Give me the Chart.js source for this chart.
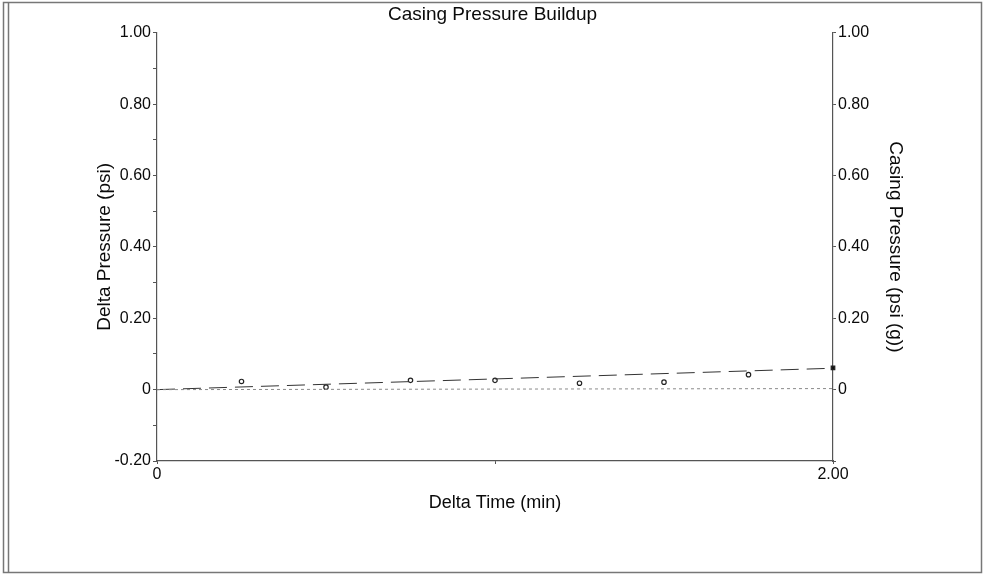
<!DOCTYPE html>
<html>
<head>
<meta charset="utf-8">
<script src="https://cdn.jsdelivr.net/npm/chart.js@4/dist/chart.umd.min.js"></script>
<style>
    html, body { margin: 0; padding: 0; background: #fff; }
    #wrap { width: 985px; height: 576px; }
</style>
</head>
<body>
<div id="wrap"><canvas id="buildupChart" width="985" height="576"></canvas></div>
<script>
// measured points (delta time in min, delta pressure in psi)
const timeMin = [0.25, 0.5, 0.75, 1.0, 1.25, 1.5, 1.75, 2.0];
const deltaPressure = [0.023, 0.007, 0.026, 0.026, 0.018, 0.021, 0.042, 0.061];

// dashed fit line and dotted base line
const trendTime = [0, 2.0];
const trendPressure = [0, 0.06];
const baseTime = [0, 2.0];
const basePressure = [0, 0.003];

// tick labels
const xTickValues = [0, 1, 2];
const xTickLabels = ["0", "", "2.00"];
const leftTickValues = [-0.2, 0, 0.2, 0.4, 0.6, 0.8, 1.0];
const leftTickLabels = ["-0.20", "0", "0.20", "0.40", "0.60", "0.80", "1.00"];
const rightTickValues = [0, 0.2, 0.4, 0.6, 0.8, 1.0];
const rightTickLabels = ["0", "0.20", "0.40", "0.60", "0.80", "1.00"];

function toPoints(xs, ys) {
    return xs.map((x, i) => ({ x: x, y: ys[i] }));
}

function labelFor(value, values, labels) {
    const i = values.findIndex(v => Math.abs(v - value) < 1e-6);
    return i >= 0 ? labels[i] : "";
}

const FONT = "'Liberation Sans', Arial, sans-serif";
const AXIS = "#555";
const TEXT = "#0a0a0a";

// outer frame of the page
const framePlugin = {
    id: "frame",
    afterDraw(chart) {
        const ctx = chart.ctx;
        ctx.save();
        ctx.strokeStyle = "#777";
        ctx.lineWidth = 1.5;
        ctx.strokeRect(3.5, 2.5, 978, 570);
        ctx.beginPath();
        ctx.moveTo(8.5, 3);
        ctx.lineTo(8.5, 572);
        ctx.stroke();
        ctx.restore();
    }
};

const ctx = document.getElementById("buildupChart").getContext("2d");
new Chart(ctx, {
    type: "scatter",
    data: {
        datasets: [
            {
                label: "base",
                data: toPoints(baseTime, basePressure),
                showLine: true,
                borderColor: "#8a8a8a",
                borderWidth: 1,
                borderDash: [3, 3],
                pointRadius: 0,
                yAxisID: "y"
            },
            {
                label: "trend",
                data: toPoints(trendTime, trendPressure),
                showLine: true,
                borderColor: "#333",
                borderWidth: 1,
                borderDash: [18, 8],
                pointRadius: 0,
                yAxisID: "y"
            },
            {
                label: "Delta Pressure",
                data: toPoints(timeMin, deltaPressure),
                showLine: false,
                clip: false,
                pointStyle: c => (c.dataIndex === timeMin.length - 1 ? "rect" : "circle"),
                pointRadius: c => (c.dataIndex === timeMin.length - 1 ? 2.5 : 2.2),
                backgroundColor: c => (c.dataIndex === timeMin.length - 1 ? "#111" : "#fff"),
                borderColor: "#222",
                borderWidth: 1.2,
                yAxisID: "y"
            }
        ]
    },
    options: {
        responsive: false,
        animation: false,
        layout: { padding: 0 },
        plugins: {
            legend: { display: false },
            tooltip: { enabled: false },
            title: {
                display: true,
                text: "Casing Pressure Buildup",
                color: TEXT,
                font: { family: FONT, size: 19, weight: "normal" },
                padding: { top: 3, bottom: 7 }
            }
        },
        scales: {
            x: {
                type: "linear",
                min: 0,
                max: 2,
                afterFit: s => { s.height = 115; },
                afterBuildTicks: s => { s.ticks = xTickValues.map(v => ({ value: v })); },
                border: { display: true, color: AXIS, width: 1.2 },
                grid: { display: true, drawOnChartArea: false, drawTicks: true, tickLength: 3, color: AXIS },
                ticks: {
                    color: TEXT,
                    font: { family: FONT, size: 16 },
                    padding: 1,
                    maxRotation: 0,
                    autoSkip: false,
                    callback: v => labelFor(v, xTickValues, xTickLabels)
                },
                title: {
                    display: true,
                    text: "Delta Time (min)",
                    color: TEXT,
                    font: { family: FONT, size: 18 },
                    padding: { top: 0, bottom: 62 }
                }
            },
            y: {
                type: "linear",
                position: "left",
                min: -0.2,
                max: 1.0,
                afterFit: s => { s.width = 157; },
                border: { display: true, color: AXIS, width: 1.2 },
                grid: { display: true, drawOnChartArea: false, drawTicks: true, tickLength: 4, color: AXIS },
                ticks: {
                    stepSize: 0.1,
                    color: TEXT,
                    font: { family: FONT, size: 16 },
                    padding: 2,
                    autoSkip: false,
                    callback: v => labelFor(v, leftTickValues, leftTickLabels)
                },
                title: {
                    display: true,
                    text: "Delta Pressure (psi)",
                    color: TEXT,
                    font: { family: FONT, size: 19 },
                    padding: { top: 93, bottom: 0 }
                }
            },
            y2: {
                type: "linear",
                position: "right",
                min: -0.2,
                max: 1.0,
                afterFit: s => { s.width = 152; },
                border: { display: true, color: AXIS, width: 1.2 },
                grid: { display: true, drawOnChartArea: false, drawTicks: true, tickLength: 3, color: AXIS },
                ticks: {
                    stepSize: 0.2,
                    color: TEXT,
                    font: { family: FONT, size: 16 },
                    padding: 2,
                    autoSkip: false,
                    callback: v => labelFor(v, rightTickValues, rightTickLabels)
                },
                title: {
                    display: true,
                    text: "Casing Pressure (psi (g))",
                    color: TEXT,
                    font: { family: FONT, size: 19 },
                    padding: { top: 78, bottom: 0 }
                }
            }
        }
    },
    plugins: [framePlugin]
});
</script>
</body>
</html>
